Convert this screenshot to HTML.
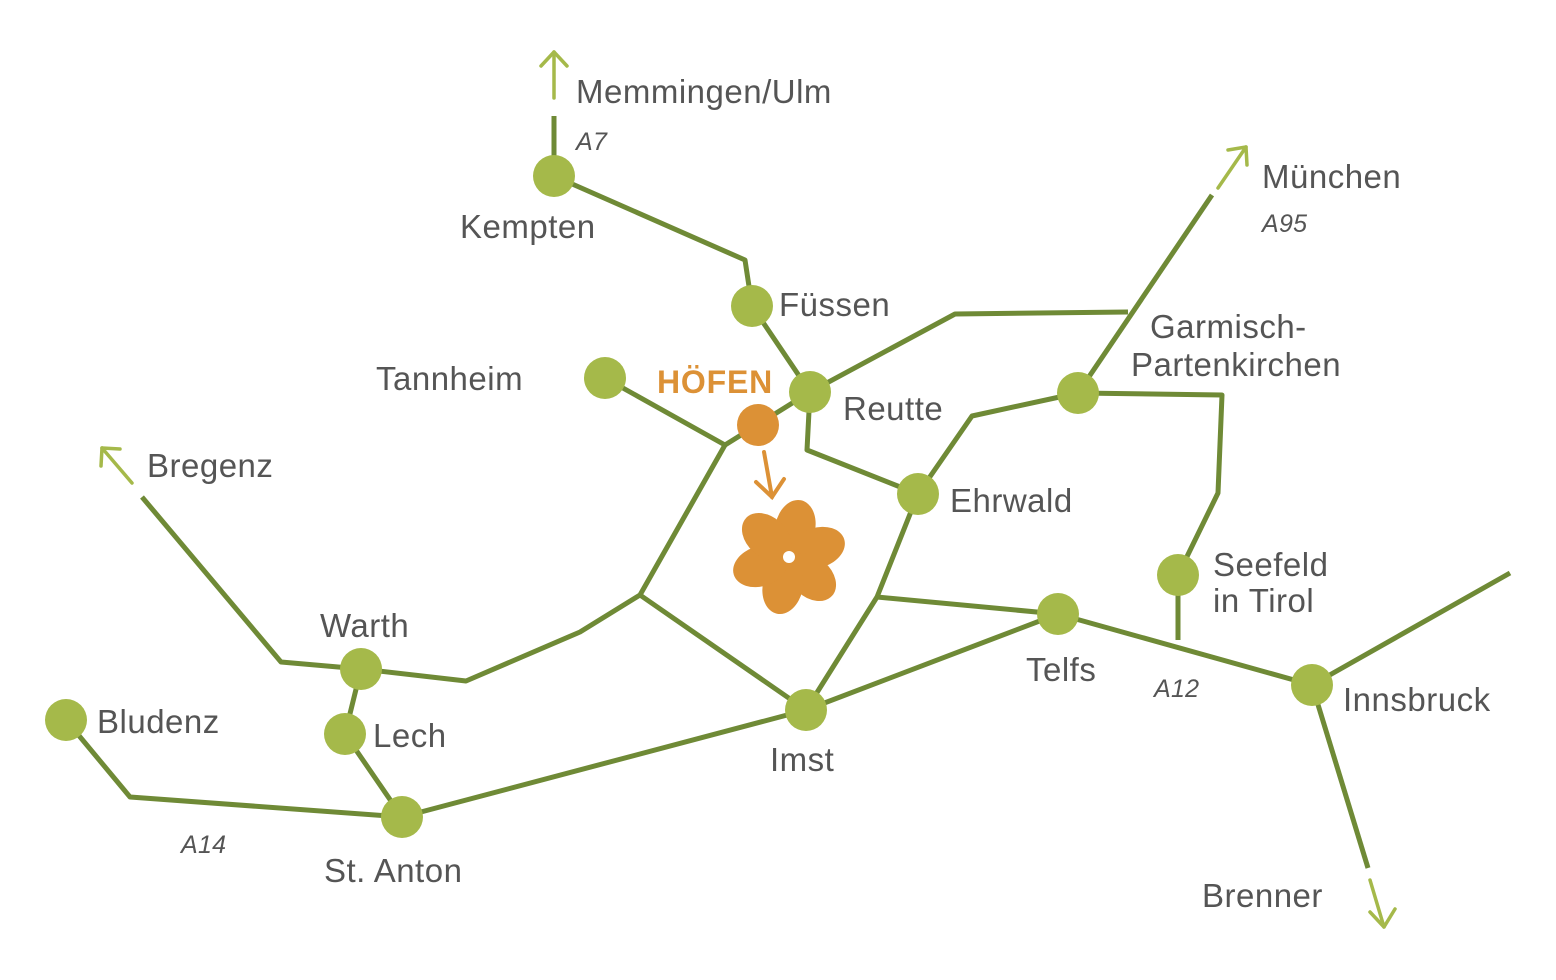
<!DOCTYPE html>
<html><head><meta charset="utf-8"><style>
html,body{margin:0;padding:0;background:#fff;}
svg{display:block;}
text{font-family:"Liberation Sans",sans-serif;fill:#555;font-size:33px;letter-spacing:0.5px;}
.it{font-style:italic;font-size:25px;letter-spacing:0.3px;}
</style></head><body>
<svg width="1556" height="980" viewBox="0 0 1556 980" xmlns="http://www.w3.org/2000/svg">
<g fill="none" stroke="#6f8a36" stroke-width="5" stroke-linejoin="round" stroke-linecap="butt">
<polyline points="554,116 554,176 745,260 752,306 810,392 955,314 1128,312"/>
<polyline points="1212,195 1078,393"/>
<polyline points="605,378 725,445 810,392"/>
<polyline points="725,445 640,595 580,632 466,681 361,669 281,662 142,497"/>
<polyline points="640,595 806,710"/>
<polyline points="810,392 807,450 918,494 972,416 1078,393 1222,395 1218,493 1178,575 1178,640"/>
<polyline points="918,494 877,597 806,710"/>
<polyline points="877,597 1058,614 1312,685 1510,573"/>
<polyline points="1312,685 1368,868"/>
<polyline points="1058,614 806,710 402,817 130,797 66,720"/>
<polyline points="402,817 345,734 361,669"/>
</g>
<g fill="none" stroke="#a5b94a" stroke-width="3.5" stroke-linecap="round" stroke-linejoin="round">
<line x1="554" y1="98" x2="554" y2="52"/><polyline points="541,66 554,52 567,66"/>
<line x1="1218" y1="188" x2="1246" y2="147"/><polyline points="1228,150 1246,147 1247,165"/>
<line x1="132" y1="483" x2="102" y2="448"/><polyline points="101,466 102,448 120,449"/>
<line x1="1370" y1="880" x2="1384" y2="927"/><polyline points="1370,912 1384,927 1395,909"/>
</g>
<g fill="#a5b94a">
<circle cx="554" cy="176" r="21"/><circle cx="752" cy="306" r="21"/><circle cx="810" cy="392" r="21"/>
<circle cx="605" cy="378" r="21"/><circle cx="1078" cy="393" r="21"/><circle cx="918" cy="494" r="21"/>
<circle cx="1178" cy="575" r="21"/><circle cx="1058" cy="614" r="21"/><circle cx="1312" cy="685" r="21"/>
<circle cx="806" cy="710" r="21"/><circle cx="361" cy="669" r="21"/><circle cx="345" cy="734" r="21"/>
<circle cx="402" cy="817" r="21"/><circle cx="66" cy="720" r="21"/>
</g>
<circle cx="758" cy="425" r="21" fill="#dc9136"/>
<g stroke="#dc9136" stroke-width="4" fill="none" stroke-linecap="round">
<line x1="764" y1="452" x2="772" y2="497"/><polyline points="756,482 772,497 784,479"/>
</g>
<g fill="#dc9136" transform="translate(789,557)">
<ellipse cx="0" cy="-30" rx="20" ry="28" transform="rotate(12)"/>
<ellipse cx="0" cy="-30" rx="20" ry="28" transform="rotate(72)"/>
<ellipse cx="0" cy="-30" rx="20" ry="28" transform="rotate(132)"/>
<ellipse cx="0" cy="-30" rx="20" ry="28" transform="rotate(192)"/>
<ellipse cx="0" cy="-30" rx="20" ry="28" transform="rotate(252)"/>
<ellipse cx="0" cy="-30" rx="20" ry="28" transform="rotate(312)"/>
<circle cx="0" cy="0" r="6" fill="#fff"/>
</g>
<text x="576" y="103">Memmingen/Ulm</text>
<text x="576" y="150" class="it">A7</text>
<text x="460" y="238">Kempten</text>
<text x="779" y="316">Füssen</text>
<text x="376" y="390">Tannheim</text>
<text x="657" y="393" style="fill:#dc9136;font-weight:bold;font-size:32px;letter-spacing:0.8px">HÖFEN</text>
<text x="843" y="420">Reutte</text>
<text x="1262" y="188">München</text>
<text x="1262" y="232" class="it">A95</text>
<text x="1150" y="338">Garmisch-</text>
<text x="1131" y="376">Partenkirchen</text>
<text x="147" y="477">Bregenz</text>
<text x="950" y="512">Ehrwald</text>
<text x="1213" y="576">Seefeld</text>
<text x="1213" y="612">in Tirol</text>
<text x="320" y="637">Warth</text>
<text x="373" y="747">Lech</text>
<text x="97" y="733">Bludenz</text>
<text x="1026" y="681">Telfs</text>
<text x="1154" y="697" class="it">A12</text>
<text x="1343" y="711">Innsbruck</text>
<text x="770" y="771">Imst</text>
<text x="181" y="853" class="it">A14</text>
<text x="324" y="882">St. Anton</text>
<text x="1202" y="907">Brenner</text>
</svg>
</body></html>
